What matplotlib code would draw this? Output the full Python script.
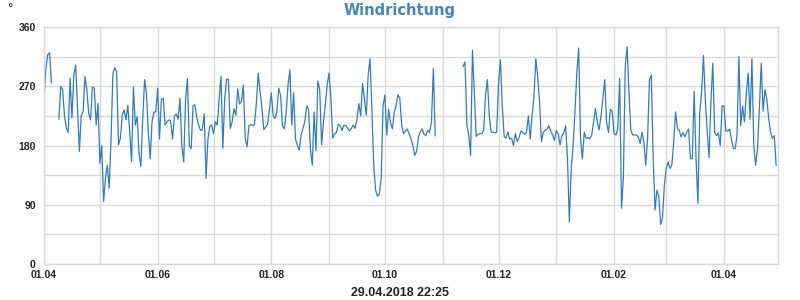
import numpy as np
import pandas as pd
import matplotlib
matplotlib.use("Agg")
import matplotlib.pyplot as plt
import matplotlib.dates as mdates

# daily wind direction in degrees, starting 01.04.2017 (nan = no data)
nan = np.nan
wind_dir = [
    250, 297, 318, 321, 275, nan, nan, nan, 220, 270,
    265, 225, 206, 200, 282, 222, 287, 302, 236, 171,
    226, 231, 285, 264, 229, 219, 269, 267, 211, 244,
    153, 180, 95, 130, 150, 115, 191, 290, 298, 292,
    181, 191, 226, 234, 219, 241, 201, 155, 269, 211,
    224, 168, 148, 221, 280, 259, 201, 160, 216, 231,
    231, 267, 190, 250, 252, 211, 216, 219, 217, 190,
    225, 228, 220, 252, 180, 155, 250, 282, 180, 175,
    240, 242, 223, 211, 203, 204, 228, 130, 190, 209,
    211, 198, 216, 211, 250, 285, 176, 250, 281, 280,
    206, 216, 236, 226, 266, 243, 247, 272, 191, 178,
    210, 212, 210, 212, 245, 290, 262, 236, 204, 208,
    212, 235, 260, 226, 221, 231, 267, 256, 210, 205,
    231, 272, 295, 211, 260, 190, 180, 173, 196, 206,
    216, 240, 235, 175, 150, 231, 172, 278, 265, 181,
    216, 241, 272, 290, 252, 191, 198, 200, 212, 210,
    203, 211, 210, 206, 202, 206, 211, 206, 220, 244,
    225, 274, 250, 226, 287, 312, 236, 150, 112, 103,
    107, 130, 240, 257, 196, 235, 215, 205, 230, 241,
    257, 252, 211, 198, 202, 205, 198, 190, 180, 165,
    171, 193, 201, 205, 197, 195, 203, 200, 216, 297,
    195, nan, nan, nan, nan, nan, nan, nan, nan, nan,
    nan, nan, nan, nan, nan, 300, 307, 210, 196, 165,
    325, 260, 194, 197, 198, 198, 203, 257, 280, 226,
    201, 200, 199, 200, 277, 310, 240, 194, 191, 200,
    190, 191, 180, 198, 186, 192, 202, 200, 197, 200,
    225, 190, 226, 254, 312, 285, 247, 186, 200, 203,
    205, 210, 202, 196, 188, 203, 198, 181, 195, 199,
    210, 160, 64, 145, 180, 230, 290, 328, 190, 160,
    200, 191, 192, 190, 196, 216, 236, 215, 204, 225,
    252, 280, 215, 200, 235, 232, 198, 196, 205, 282,
    85, 130, 300, 330, 260, 203, 196, 196, 196, 193,
    183, 200, 185, 150, 191, 280, 287, 160, 82, 112,
    103, 60, 70, 120, 145, 155, 145, 150, 185, 231,
    206, 203, 193, 200, 193, 200, 205, 160, 160, 262,
    160, 92, 230, 262, 317, 247, 201, 162, 247, 305,
    200, 195, 199, 180, 240, 240, 202, 202, 205, 190,
    176, 175, 195, 315, 210, 240, 216, 260, 290, 220,
    312, 180, 150, 175, 236, 305, 232, 265, 250, 221,
    201, 191, 195, 150,
]
dates = pd.date_range("2017-04-01", periods=len(wind_dir), freq="D")

y_ticks = [0, 90, 180, 270, 360]
title = "Windrichtung"
stamp = "29.04.2018 22:25"

lab_font = ["Liberation Sans", "DejaVu Sans"]

fig = plt.figure(figsize=(8, 3), dpi=100)
ax = fig.add_axes([0.055, 0.12, 0.9175, 0.79])

ax.plot(dates, wind_dir, color="#2f7dbf", lw=0.9)

ax.set_ylim(0, 360)
ax.set_xlim(pd.Timestamp("2017-04-01"), pd.Timestamp("2018-04-30"))

ax.yaxis.set_major_locator(plt.FixedLocator(y_ticks))
ax.yaxis.set_minor_locator(plt.MultipleLocator(45))
ax.xaxis.set_major_locator(mdates.MonthLocator(bymonth=[2, 4, 6, 8, 10, 12]))
ax.xaxis.set_minor_locator(mdates.MonthLocator())
ax.xaxis.set_major_formatter(mdates.DateFormatter("%d.%m"))

ax.grid(True, which="both", color="#d9d9d9", lw=1)
ax.set_axisbelow(True)
for s in ax.spines.values():
    s.set_color("#d9d9d9")
    s.set_linewidth(1)

ax.tick_params(which="both", length=0)
ax.tick_params(axis="y", pad=6)
ax.tick_params(axis="x", pad=4)
for lbl in ax.get_xticklabels() + ax.get_yticklabels():
    lbl.set_family(lab_font)
    lbl.set_fontweight("bold")
    lbl.set_fontsize(7.5)
    lbl.set_color("#222222")

fig.text(0.5, 0.965, title, ha="center", va="center", fontsize=10.5,
         fontweight="bold", color="#4285c4", family="DejaVu Sans")
fig.text(0.5, 0.022, stamp, ha="center", va="center", fontsize=9,
         fontweight="bold", color="#222222", family=lab_font)
fig.text(0.014, 0.972, "°", ha="center", va="center", fontsize=8,
         color="#222222")

fig.savefig("out.png", dpi=100)
